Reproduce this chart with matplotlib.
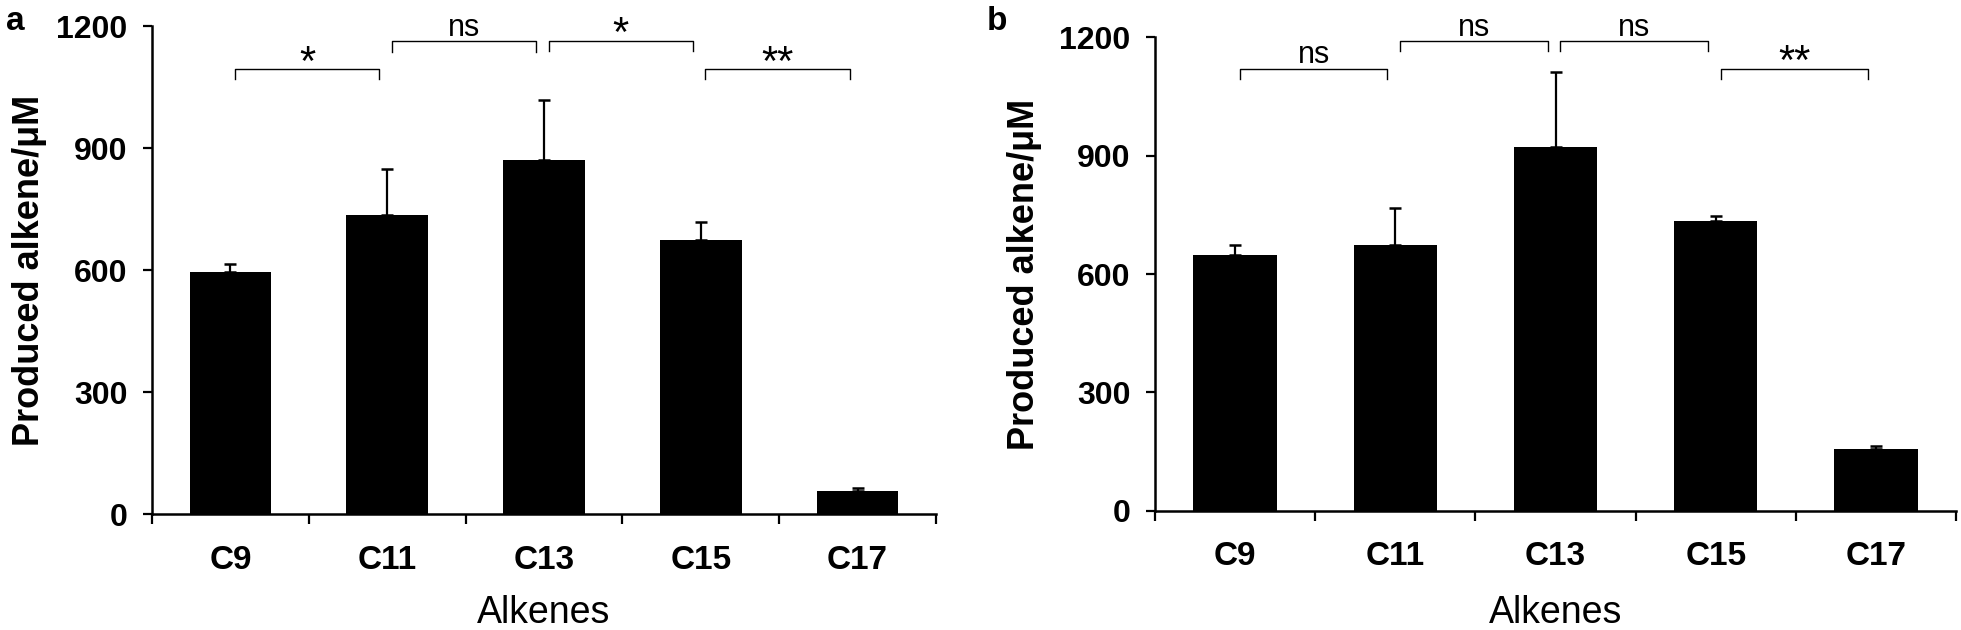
import matplotlib
matplotlib.use('Agg')
import matplotlib.pyplot as plt
import numpy as np

categories = ['C9', 'C11', 'C13', 'C15', 'C17']

# panel a
means_a = [595, 735, 872, 674, 58]
errs_a = [20, 113, 148, 46, 5]
brackets_a = [(0, 1, 1095, '*'), (1, 2, 1163, 'ns'), (2, 3, 1165, '*'), (3, 4, 1095, '**')]

# panel b
means_b = [648, 674, 922, 735, 156]
errs_b = [25, 94, 191, 11, 8]
brackets_b = [(0, 1, 1120, 'ns'), (1, 2, 1190, 'ns'), (2, 3, 1190, 'ns'), (3, 4, 1120, '**')]

yticks = [0, 300, 600, 900, 1200]

font = ['Liberation Sans', 'DejaVu Sans']
# size and baseline offset (pt) for the significance marks
sig_style = {'ns': (22, 4), '*': (30, -4), '**': (30, -4)}

fig = plt.figure(figsize=(19.61, 6.30), dpi=100)

panels = [
    ('a', means_a, errs_a, brackets_a, [0.0775, 0.184, 0.3998, 0.774], (0.003, 0.99), -0.134, -0.166),
    ('b', means_b, errs_b, brackets_b, [0.589, 0.189, 0.4085, 0.752], (0.503, 0.99), -0.141, -0.177),
]

for letter, means, errs, brackets, rect, letter_pos, ylab_x, xlab_y in panels:
    ax = fig.add_axes(rect)
    x = np.arange(len(categories))
    ax.bar(x, means, width=0.52, color='black', zorder=2)
    ax.errorbar(x, means, yerr=[np.zeros(len(errs)), errs], fmt='none',
                ecolor='black', elinewidth=1.6, capsize=4.5, capthick=1.8, zorder=1)

    ax.set_xlim(-0.5, len(categories) - 0.5)
    ax.set_ylim(0, 1200)
    ax.set_yticks(yticks)
    ax.set_yticklabels([str(v) for v in yticks], family=font, fontweight='bold', fontsize=23)
    ax.set_xticks(x)
    ax.set_xticklabels(categories, family=font, fontweight='bold', fontsize=24)
    ax.set_xticks(np.arange(-0.5, len(categories)), minor=True)
    ax.tick_params(axis='x', which='major', length=0, pad=22)
    ax.tick_params(axis='x', which='minor', length=7, width=1.6, direction='out')
    ax.tick_params(axis='y', length=6.5, width=1.6, direction='out', pad=11)

    for side in ['top', 'right']:
        ax.spines[side].set_visible(False)
    for side in ['left', 'bottom']:
        ax.spines[side].set_linewidth(1.8)

    ax.set_xlabel('Alkenes', family=font, fontsize=27)
    ax.xaxis.set_label_coords(0.5, xlab_y)
    ax.set_ylabel('Produced alkene/\u03bcM', family=font, fontweight='bold', fontsize=26)
    ax.yaxis.set_label_coords(ylab_x, 0.5)

    for i, j, h, lab in brackets:
        x0, x1 = i + 0.03, j - 0.05
        ax.plot([x0, x0, x1, x1], [h - 25, h, h, h - 25], color='black', lw=1.0,
                clip_on=False, zorder=3)
        size, off = sig_style[lab]
        ax.annotate(lab, ((x0 + x1) / 2, h), xytext=(0, off), textcoords='offset points',
                    ha='center', va='baseline', fontsize=size, family=font)

    fig.text(letter_pos[0], letter_pos[1], letter, fontsize=24, fontweight='bold',
             family=font, ha='left', va='top')

fig.savefig('out.png', dpi=100)
